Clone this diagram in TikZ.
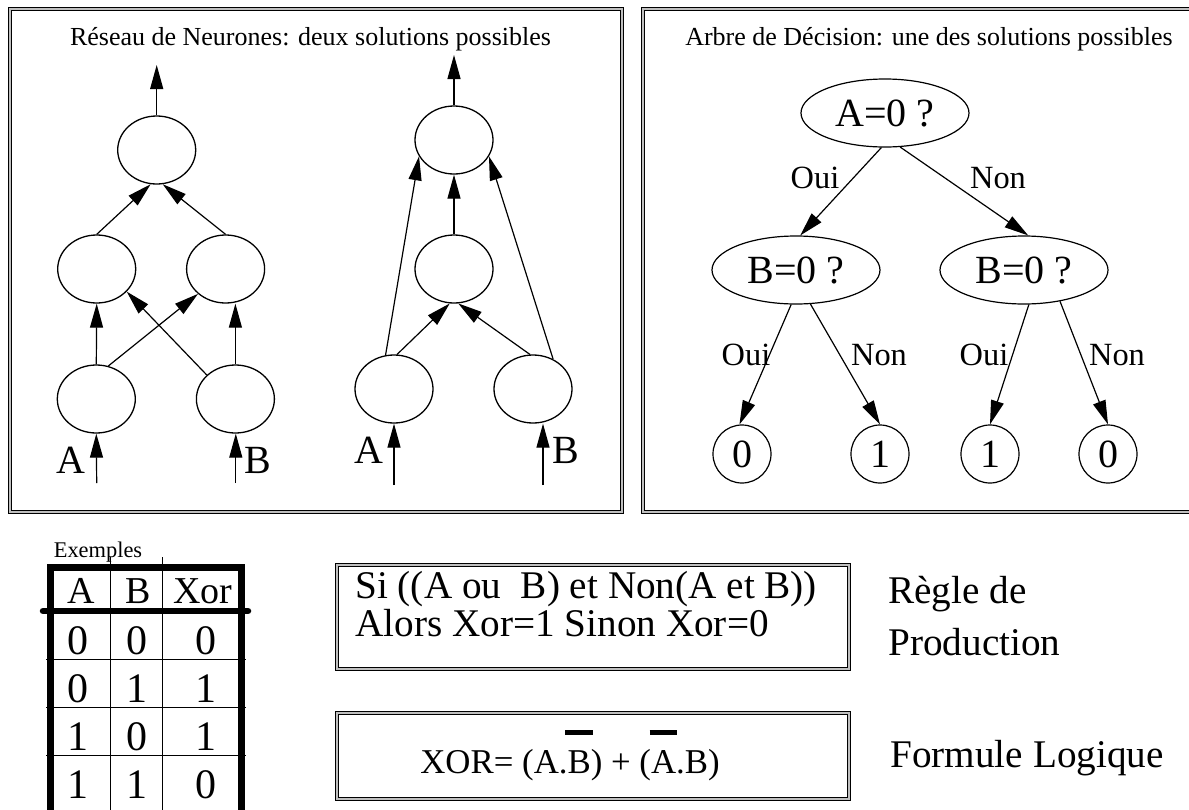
\documentclass[tikz,border=0pt]{standalone}
\usepackage{fontspec}
\setmainfont{Liberation Serif}
\usetikzlibrary{arrows.meta,shapes.geometric}
\newcommand{\barre}[1]{\ooalign{#1\cr\hidewidth\rule[1.1em]{0.8em}{0.15em}\hidewidth\cr}}
\tikzstyle{neurone}=[ellipse,draw=black,line width=0.65pt,inner sep=0pt,
                     minimum width=39pt,minimum height=34pt]
\tikzstyle{test}=[ellipse,draw=black,line width=0.6pt,inner sep=0pt,
                  minimum width=84pt,minimum height=34pt,font=\fontsize{20}{22}\selectfont]
\tikzstyle{feuille}=[circle,draw=black,line width=0.6pt,inner sep=0pt,
                     minimum size=29pt,font=\fontsize{20}{22}\selectfont]
\tikzstyle{fleche}=[line width=0.6pt,-{Triangle[length=12pt,width=6.5pt]}]
\tikzstyle{cadre}=[draw=black,line width=0.5pt,double=black!25,double distance=1pt]
\tikzstyle{titre}=[anchor=base,inner sep=0pt,font=\fontsize{13}{15}\selectfont]
\tikzstyle{etiq}=[anchor=base,inner sep=0pt,font=\fontsize{16.2}{18}\selectfont]
\tikzstyle{entree}=[anchor=base,inner sep=0pt,font=\fontsize{20}{22}\selectfont]
\tikzstyle{entete}=[anchor=base,inner sep=0pt,font=\fontsize{19}{21}\selectfont]
\tikzstyle{cellule}=[anchor=base,inner sep=0pt,font=\fontsize{21}{23}\selectfont]
\tikzstyle{texte}=[anchor=base west,inner sep=0pt,font=\fontsize{19.6}{22}\selectfont]

\begin{document}
\begin{tikzpicture}[x=0.5pt,y=-0.5pt]
  \useasboundingbox (0,0) rectangle (1189,809);
  % cadres
  \draw[cadre] (10,9) rectangle (622,511.5);
  \draw[cadre] (642.5,9) rectangle (1195,511.5);
  \draw[cadre] (337,564.5) rectangle (849,669);
  \draw[cadre] (337,713) rectangle (849,798.5);

  % reseau de neurones
  \node (titrereseau) at (310.5,45) [titre] {Réseau de Neurones: deux solutions possibles};
  \node (gsortie)  at (156.7,150) [neurone]{};
  \node (gcache1)  at (96.7,269)  [neurone]{};
  \node (gcache2)  at (225.6,269) [neurone]{};
  \node (gentreeA) at (96.3,399)  [neurone]{};
  \node (gentreeB) at (235.4,399) [neurone]{};
  \coordinate (gout) at (156.7,65);
  \coordinate (ginA) at (96.7,483);
  \coordinate (ginB) at (235.8,483);
  \draw[fleche] (gsortie.north) -- (gout);
  \draw[fleche] (gentreeA.north) -- (gcache1.south);
  \draw[fleche] (gentreeB.north) -- (gentreeB.north |- gcache2.south);
  \draw[fleche] (gentreeA.70) -- (gcache2.222);
  \draw[fleche] (gentreeB.140) -- (gcache1.323);
  \draw[fleche] (gcache1.north) -- (gsortie.-100);
  \draw[fleche] (gcache2.north) -- (gsortie.-80);
  \draw[fleche] (ginA) -- (gentreeA.south);
  \draw[fleche] (ginB) -- (ginB |- gentreeB.south);
  \node (glA) at (71.4,473) [entree]{A};
  \node (glB) at (258,473)  [entree]{B};

  \node (dsortie)  at (454,140) [neurone]{};
  \node (dcache)   at (454,269) [neurone]{};
  \node (dentreeA) at (394,389) [neurone]{};
  \node (dentreeB) at (533,389) [neurone]{};
  \coordinate (dout) at (454,55);
  \coordinate (dinA) at (394,485);
  \coordinate (dinB) at (543,485);
  \draw[fleche] (dsortie.north) -- (dout);
  \draw[fleche] (dcache.north) -- (dsortie.south);
  \draw[fleche] (dentreeA.85) -- (dcache.-97);
  \draw[fleche] (dentreeB.95) -- (dcache.-83);
  \draw[fleche] (dentreeA.104) -- (dsortie.205);
  \draw[fleche] (dentreeB.56) -- (dsortie.-25);
  \draw[fleche] (dinA) -- (dentreeA.south);
  \draw[fleche] (dinB) -- (dinB |- dentreeB.south);
  \node (dlA) at (369,463) [entree]{A};
  \node (dlB) at (566,463) [entree]{B};

  % arbre de decision
  \node (titrearbre) at (929,45) [titre] {Arbre de Décision: une des solutions possibles};
  \node (racine)  at (885,113)  [test]{A=0 ?};
  \node (bgauche) at (796,270)  [test]{B=0 ?};
  \node (bdroite) at (1024,270) [test]{B=0 ?};
  \node (f1) at (742,454)  [feuille]{0};
  \node (f2) at (880,454)  [feuille]{1};
  \node (f3) at (990,454)  [feuille]{1};
  \node (f4) at (1108,454) [feuille]{0};
  \draw[fleche] (racine.-96) -- (bgauche.83);
  \draw[fleche] (racine.-66) -- (bdroite.83);
  \draw[fleche] (bgauche.-98) -- (f1.95);
  \draw[fleche] (bgauche.-67) -- (f2.north);
  \draw[fleche] (bdroite.-82) -- (f3.north);
  \draw[fleche] (bdroite.-41) -- (f4.north);
  \node (oui1) at (815,188)  [etiq]{Oui};
  \node (non1) at (998,188)  [etiq]{Non};
  \node (oui2) at (746,365)  [etiq]{Oui};
  \node (non2) at (879,365)  [etiq]{Non};
  \node (oui3) at (984,365)  [etiq]{Oui};
  \node (non3) at (1117,365) [etiq]{Non};

  % exemples
  \node (exemples) at (98,557) [anchor=base,inner sep=0pt,font=\fontsize{11.2}{13}\selectfont]{Exemples};
  \draw[line width=3.25pt] (50.5,567.5) rectangle (241.5,815);
  \draw[line width=3.25pt,line cap=round] (43,611) -- (248,611);
  \foreach \y in {659,707,755}
    \draw[line width=0.5pt] (46,\y) -- (246,\y);
  \foreach \x in {110,162}
    \draw[line width=0.5pt] (\x,557) -- (\x,815);
  \node (hA) at (81,603)  [entete]{A};
  \node (hB) at (138,603) [entete]{B};
  \node (hX) at (203,603) [entete]{Xor};
  \foreach \a/\b/\c/\y in {0/0/0/654,0/1/1/702,1/0/1/750,1/1/0/798}{
    \node (ca\y) at (78,\y)    [cellule]{\a};
    \node (cb\y) at (136.5,\y) [cellule]{\b};
    \node (cc\y) at (206,\y)   [cellule]{\c};
  }

  % regle et formule
  \node (si)      at (355,598) [texte]{Si ((A ou\ \ B) et Non(A et B))};
  \node (alors)   at (355,636) [texte]{Alors Xor=1 Sinon Xor=0};
  \node (regle)   at (888,603) [texte]{Règle de};
  \node (prod)    at (888,655) [texte]{Production};
  \node (formule) at (570,773) [anchor=base,inner sep=0pt,font=\fontsize{17.4}{20}\selectfont]
        {XOR= (A.\barre{B}) + (\barre{A}.B)};
  \node (logique) at (890,767) [texte]{Formule Logique};
\end{tikzpicture}
\end{document}
